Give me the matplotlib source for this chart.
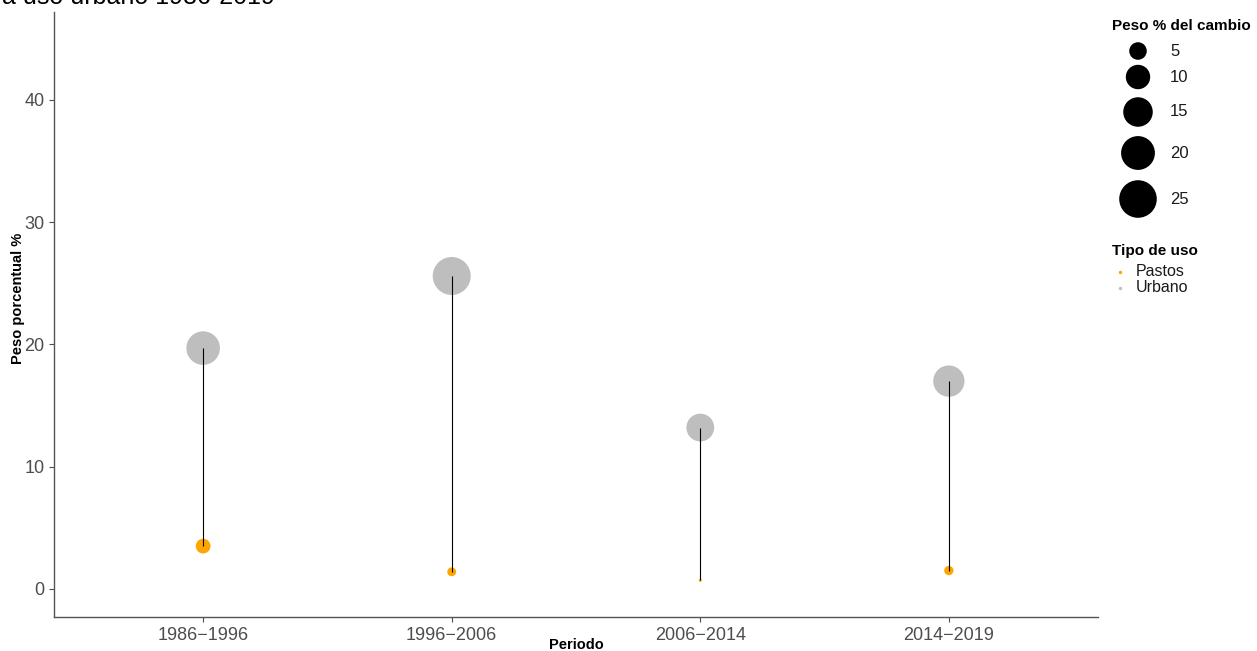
import numpy as np
import matplotlib
matplotlib.use("Agg")
import matplotlib.pyplot as plt

plt.rcParams["font.family"] = ["Liberation Sans", "DejaVu Sans"]

# Datos
periodos = ["1986\u22121996", "1996\u22122006", "2006\u22122014", "2014\u22122019"]
urbano = [19.7, 25.6, 13.2, 17.0]
pastos = [3.5, 1.4, 0.7, 1.5]
tamanos_leyenda = [5, 10, 15, 20, 25]

col_urbano = "#BEBEBE"
col_pastos = "#FFA500"

W, H, DPI = 1257, 651, 100
vmin, vmax = 0.7, 25.6


def diametro_px(v):
    v = np.asarray(v, dtype=float)
    return 3 + 35 * np.sqrt(np.clip((v - vmin) / (vmax - vmin), 0, 1))


def s_pts(v):
    return (diametro_px(v) * 72 / DPI) ** 2


fig = plt.figure(figsize=(W / DPI, H / DPI), dpi=DPI)
ax = fig.add_axes([54 / W, 1 - 617 / H, (1098 - 54) / W, (617 - 12) / H])

x = np.arange(1, len(periodos) + 1)
ax.scatter(x, urbano, s=s_pts(urbano), color=col_urbano, zorder=2, linewidths=0)
ax.scatter(x, pastos, s=s_pts(pastos), color=col_pastos, zorder=2, linewidths=0)
ax.vlines(x, pastos, urbano, color="black", linewidth=0.8, zorder=3)

ax.set_xlim(0.4, 4.6)
ax.set_ylim(-2.3, 47.2)
ax.set_xticks(x)
ax.set_xticklabels(periodos)
ax.set_yticks([0, 10, 20, 30, 40])
ax.tick_params(colors="#4D4D4D", labelsize=13, length=3.5, width=0.8)
for lab in ax.get_xticklabels() + ax.get_yticklabels():
    lab.set_color("#4D4D4D")
for side in ["top", "right"]:
    ax.spines[side].set_visible(False)
for side in ["left", "bottom"]:
    ax.spines[side].set_color("#555555")
    ax.spines[side].set_linewidth(1.0)

ax.set_xlabel("Periodo", fontsize=10.5, fontweight="bold")
ax.set_ylabel("Peso porcentual %", fontsize=10.5, fontweight="bold")
ax.xaxis.set_label_coords(0.5, (617 - 645) / 605)
ax.yaxis.set_label_coords((18 - 54) / 1044, (617 - 298) / 605)
ax.xaxis.label.set_verticalalignment("center")
ax.yaxis.label.set_verticalalignment("center")

# Titulo (cortado en la parte superior)
fig.text(2 / W, 1 - 4 / H, "a uso urbano 1986-2019", fontsize=18,
         va="baseline", ha="left")

# Leyendas manuales
lax = fig.add_axes([0, 0, 1, 1], facecolor="none")
lax.set_xlim(0, W)
lax.set_ylim(H, 0)
lax.axis("off")

lax.text(1112, 26, "Peso % del cambio", fontsize=11, fontweight="bold",
         va="center", ha="left")
filas_y = [51, 77, 112, 153, 199]
lax.scatter([1138] * len(tamanos_leyenda), filas_y, s=s_pts(tamanos_leyenda),
            color="black", linewidths=0)
for yy, t in zip(filas_y, tamanos_leyenda):
    lax.text(1170, yy, str(t), fontsize=12, va="center", ha="left",
             color="#1A1A1A")

lax.text(1112, 251, "Tipo de uso", fontsize=11, fontweight="bold",
         va="center", ha="left")
for yy, lab, c in [(272, "Pastos", col_pastos), (288, "Urbano", col_urbano)]:
    lax.scatter([1120], [yy], s=6, color=c, linewidths=0)
    lax.text(1136, yy, lab, fontsize=11.5, va="center", ha="left",
             color="#1A1A1A")

fig.savefig("out.png", dpi=DPI)
